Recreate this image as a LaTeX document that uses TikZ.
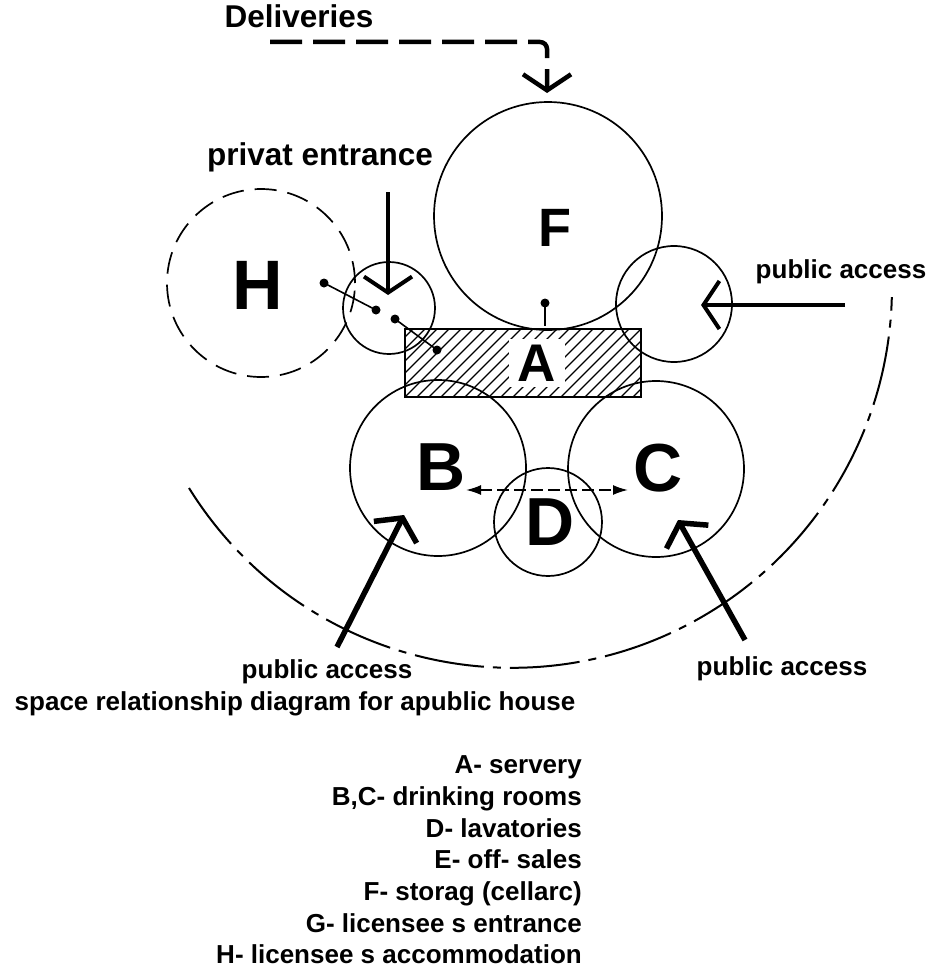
\documentclass[tikz,border=0pt]{standalone}
\usepackage{fontspec}
\setmainfont{Liberation Sans}
\usetikzlibrary{arrows.meta}
\tikzset{
  room/.style={circle, draw, line width=1.7pt, inner sep=0pt, minimum size=#1},
  dashedroom/.style={dash pattern=on 22pt off 11pt},
  letter/.style={font=\bfseries\fontsize{#1}{#1}\selectfont, inner sep=0pt},
  lbl/.style={font=\bfseries\fontsize{26}{30}\selectfont, inner sep=0pt, anchor=base},
  biglbl/.style={font=\bfseries\fontsize{31.5}{34}\selectfont, inner sep=0pt, anchor=base},
  legend/.style={font=\bfseries\fontsize{26}{30}\selectfont, inner sep=0pt, anchor=base east},
  barb/.style={line width=#1, -{Straight Barb[length=16pt,width=48pt,line width=#1]}},
  dotline/.style={line width=1.6pt},
  hatch/.style={line width=1.3pt},
  boundary/.style={line width=2pt, dash pattern=on 70pt off 9pt on 8pt off 9pt},
}
\begin{document}
\begin{tikzpicture}[x=1pt, y=-1pt]
\useasboundingbox (0,0) rectangle (932,974);
% rooms
\node[room=228pt] (F) at (548,216) {};
\node[room=116pt] (E) at (674,304) {};
\node[room=92pt] (G) at (389,308) {};
\node[room=188pt, dashedroom] (H) at (261,283) {};
\node[room=176pt] (B) at (438,468) {};
\node[room=176pt] (C) at (656,469) {};
\node[room=108pt] (D) at (548,522) {};
% servery A (hatched)
\begin{scope}
\clip (405,329) rectangle (641,397);
\foreach \c in {730,742,...,1050} \draw[hatch] (\c-420,420) -- (\c-300,300);
\end{scope}
\node[draw, line width=2pt, minimum width=236pt, minimum height=68pt, inner sep=0pt] (A) at (523,363) {};
% letters
\node[letter=54] (lF) at (555,228) {F};
\node[letter=70] (lH) at (258,285) {H};
\node[letter=53, fill=white, inner xsep=9pt, inner ysep=6pt] (lA) at (537,363) {A};
\node[letter=68] (lB) at (441,467) {B};
\node[letter=68] (lC) at (658,468) {C};
\node[letter=68] (lD) at (550,522) {D};
% dot connectors
\coordinate (h1) at (324,283);
\coordinate (g1) at (376,310);
\coordinate (g2) at (395,319);
\coordinate (a1) at (437,350);
\coordinate (f1) at (545,303);
\coordinate (a2) at (545,326);
\draw[dotline] (h1) -- (g1);
\draw[dotline] (g2) -- (a1);
\draw[dotline] (f1) -- (a2);
\foreach \p in {h1,g1,g2,a1,f1} \fill (\p) circle (4.5);
% B <-> C through D
\coordinate (bc1) at (466,490);
\coordinate (bc2) at (628,490);
\draw[line width=1.8pt, dash pattern=on 12pt off 5pt, {Latex[length=15pt,width=10pt]}-{Latex[length=15pt,width=10pt]}] (bc1) -- (bc2);
% deliveries
\coordinate (dls) at (270,42);
\coordinate (dlt) at (547,93);
\draw[barb=4.5pt, dash pattern=on 32pt off 11pt, rounded corners=7pt] (dls) -| (dlt);
% private entrance
\coordinate (pes) at (388,192);
\coordinate (pet) at (388,295);
\draw[barb=4pt] (pes) -- (pet);
% public access arrows
\coordinate (pa1s) at (845,305);
\coordinate (pa1t) at (701,305);
\draw[barb=4pt] (pa1s) -- (pa1t);
\coordinate (pa2s) at (337,647);
\coordinate (pa2t) at (404,515);
\draw[barb=5.5pt] (pa2s) -- (pa2t);
\coordinate (pa3s) at (745,640);
\coordinate (pa3t) at (678,520);
\draw[barb=5.5pt] (pa3s) -- (pa3t);
% boundary arc
\coordinate (arcs) at (189,488);
\draw[boundary] (arcs) arc[start angle=148.2, end angle=1.4, radius=380];
% labels
\node[biglbl] (tDel) at (299,28) {Deliveries};
\node[biglbl] (tPriv) at (320,165) {privat entrance};
\node[lbl] (tPA1) at (841,278) {public access};
\node[lbl] (tPA2) at (327,678) {public access};
\node[lbl] (tPA3) at (782,675) {public access};
\node[lbl] (tCap) at (295,710) {space relationship diagram for apublic house};
% legend
\node[legend] (k1) at (582,773) {A- servery};
\node[legend] (k2) at (582,805) {B,C- drinking rooms};
\node[legend] (k3) at (582,837) {D- lavatories};
\node[legend] (k4) at (582,868) {E- off- sales};
\node[legend] (k5) at (582,900) {F- storag (cellarc)};
\node[legend] (k6) at (582,932) {G- licensee s entrance};
\node[legend] (k7) at (582,963) {H- licensee s accommodation};
\end{tikzpicture}
\end{document}
